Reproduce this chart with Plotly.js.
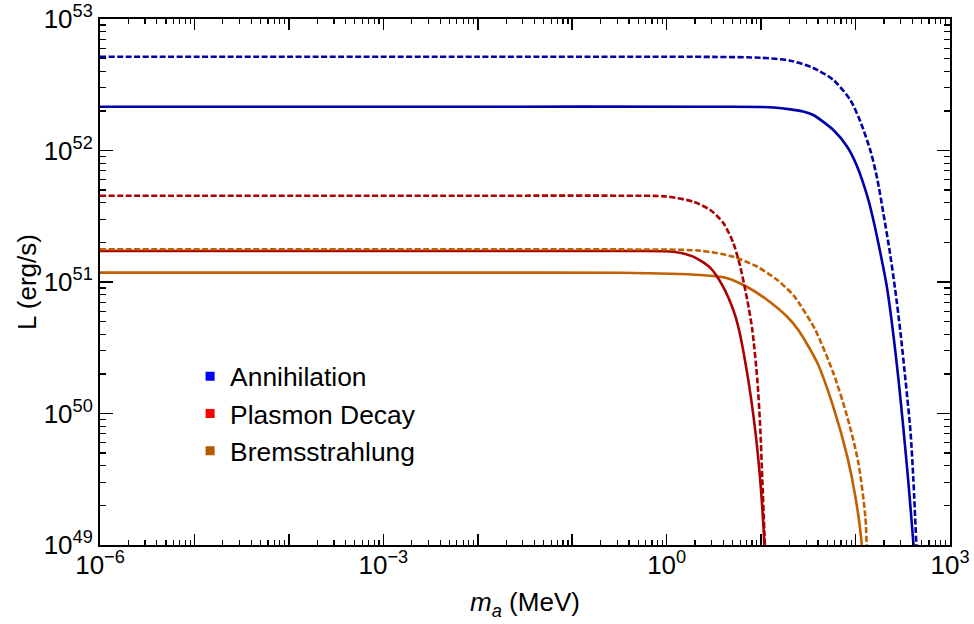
<!DOCTYPE html>
<html>
<head>
<meta charset="utf-8">
<script src="https://cdn.plot.ly/plotly-3.0.1.min.js"></script>
<style>html,body{margin:0;padding:0;background:#fff;}</style>
</head>
<body>
<div id="chart" style="width:974px;height:624px;"></div>
<script>
// ---- Data (axion mass m_a in MeV, luminosity L in erg/s) ----
const annihMassSolid = [1e-6, 0.01, 3.16, 10, 13.5, 20.4, 28.0, 35.7, 58.2, 81.9, 104.5, 133.4, 154.5, 183.2, 213.8, 245.5, 283.8, 320.6, 362.2, 409.3, 421.7];
const annihLSolid    = [2.153e52, 2.153e52, 2.153e52, 2.143e52, 2.123e52, 2.056e52, 1.982e52, 1.862e52, 1.432e52, 1.064e52, 7.50e51, 4.47e51, 2.95e51, 1.66e51, 9.33e50, 4.57e50, 1.86e50, 7.76e49, 3.02e49, 1.04e49, 7.9e48];

const annihMassDashed = [1e-6, 0.01, 3.16, 10, 20.4, 35.7, 58.2, 88.1, 112.5, 144.9, 170.2, 196.8, 229.1, 263.0, 298.5, 337.3, 381.1, 409.3, 440.6, 451.9];
const annihLDashed    = [5.16e52, 5.16e52, 5.15e52, 5.07e52, 4.82e52, 4.24e52, 3.44e52, 2.42e52, 1.66e52, 9.77e51, 6.03e51, 3.35e51, 1.74e51, 8.71e50, 4.17e50, 1.82e50, 7.41e49, 3.16e49, 1.0e49, 7.1e48];

const plasmonMassSolid = [1e-6, 0.01, 0.316, 1.175, 1.91, 2.90, 3.98, 5.08, 5.73, 7.14, 8.67, 9.82, 10.57, 11.09];
const plasmonLSolid    = [1.72e51, 1.72e51, 1.72e51, 1.70e51, 1.56e51, 1.28e51, 9.16e50, 6.12e50, 4.57e50, 2.0e50, 7.41e49, 3.02e49, 1.41e49, 7.08e48];

const plasmonMassDashed = [1e-6, 0.01, 0.316, 1, 1.91, 2.90, 3.98, 5.08, 6.03, 7.14, 8.07, 9.12, 9.82, 10.30, 10.81, 11.09];
const plasmonLDashed    = [4.53e51, 4.53e51, 4.53e51, 4.47e51, 4.08e51, 3.53e51, 2.81e51, 1.98e51, 1.30e51, 7.29e50, 4.32e50, 1.80e50, 7.50e49, 3.12e49, 1.30e49, 7.9e48];

const bremMassSolid = [1e-6, 0.01, 0.316, 2.27, 4.39, 7.14, 11.64, 18.97, 24.77, 39.45, 58.21, 81.85, 100, 116.4, 118.6];
const bremLSolid    = [1.178e51, 1.178e51, 1.175e51, 1.13e51, 1.07e51, 9.16e50, 7.29e50, 5.42e50, 4.32e50, 2.42e50, 1.12e50, 4.68e49, 2.29e49, 1.0e49, 7.08e48];

const bremMassDashed = [1e-6, 0.01, 0.316, 2.27, 5.08, 9.12, 14.86, 21.93, 26.0, 37.5, 58.2, 81.85, 107.2, 127.1, 131.2, 133.4];
const bremLDashed    = [1.774e51, 1.774e51, 1.77e51, 1.73e51, 1.556e51, 1.306e51, 1.035e51, 7.96e50, 6.69e50, 4.32e50, 2.03e50, 9.40e49, 4.21e49, 1.63e49, 1.0e49, 7.08e48];

const legendNames = ["Annihilation", "Plasmon Decay", "Bremsstrahlung"];

const xTickVals = [1e-6, 1e-5, 1e-4, 1e-3, 1e-2, 1e-1, 1, 10, 100, 1000];
const xTickText = ["10<sup>\u22126</sup>", "", "", "10<sup>\u22123</sup>", "", "", "10<sup>0</sup>", "", "", "10<sup>3</sup>"];
const yTickVals = [1e49, 1e50, 1e51, 1e52, 1e53];
const yTickText = ["10<sup>49</sup>", "10<sup>50</sup>", "10<sup>51</sup>", "10<sup>52</sup>", "10<sup>53</sup>"];

// ---- Styling ----
const lineColors = ["#0000aa", "#aa0000", "#c06000"];
const legendColors = ["#0000ff", "#ff0000", "#b35a00"];
const FONT = "Liberation Sans, Arial, sans-serif";

function minorVals(lo, hi) {
  const out = [];
  for (let e = lo; e < hi; e++) {
    for (let d = 2; d <= 9; d++) out.push(d * Math.pow(10, e));
  }
  return out;
}

function line(x, y, color, dashed) {
  return {
    x: x, y: y, type: "scatter", mode: "lines", showlegend: false, hoverinfo: "skip",
    line: { color: color, width: 2.6, dash: dashed ? "6px,2.5px" : "solid", shape: "spline", smoothing: 0.7 }
  };
}

const traces = [
  line(bremMassSolid, bremLSolid, lineColors[2], false),
  line(plasmonMassSolid, plasmonLSolid, lineColors[1], false),
  line(bremMassDashed, bremLDashed, lineColors[2], true),
  line(plasmonMassDashed, plasmonLDashed, lineColors[1], true),
  line(annihMassSolid, annihLSolid, lineColors[0], false),
  line(annihMassDashed, annihLDashed, lineColors[0], true)
];
legendNames.forEach((n, i) => {
  traces.push({
    x: [null], y: [null], type: "scatter", mode: "markers", name: n,
    marker: { symbol: "square", size: 9, color: legendColors[i] }
  });
});

const axisCommon = {
  type: "log", showline: true, linecolor: "black", linewidth: 2, mirror: "ticks",
  ticks: "inside", tickcolor: "black", tickwidth: 1.5,
  showgrid: false, zeroline: false, tickmode: "array",
  tickfont: { family: FONT, size: 26, color: "black" }
};

const layout = {
  width: 974, height: 624,
  margin: { l: 100, r: 24, t: 19, b: 79 },
  paper_bgcolor: "white", plot_bgcolor: "white",
  font: { family: FONT, color: "black" },
  showlegend: true,
  legend: {
    x: 0.106, y: 0.366, xanchor: "left", yanchor: "top", tracegroupgap: 0,
    bgcolor: "rgba(0,0,0,0)", font: { family: FONT, size: 26.4, color: "black" }
  },
  xaxis: Object.assign({}, axisCommon, {
    range: [-6, 3], ticklen: 11, ticklabelstandoff: -4,
    tickvals: xTickVals, ticktext: xTickText,
    minor: { tickmode: "array", tickvals: minorVals(-6, 3), ticks: "inside", ticklen: 5, tickwidth: 1.2, tickcolor: "black" },
    title: { text: "<i>m</i><sub><i>a</i></sub> (MeV)", font: { family: FONT, size: 26, color: "black" }, standoff: 14 }
  }),
  yaxis: Object.assign({}, axisCommon, {
    range: [49, 53], ticklen: 13,
    tickvals: yTickVals, ticktext: yTickText,
    minor: { tickmode: "array", tickvals: minorVals(49, 53), ticks: "inside", ticklen: 6, tickwidth: 1.2, tickcolor: "black" },
    title: { text: "L (erg/s)", font: { family: FONT, size: 26, color: "black" }, standoff: 0 }
  })
};

Plotly.newPlot("chart", traces, layout, { displayModeBar: false, staticPlot: true });
</script>
</body>
</html>
